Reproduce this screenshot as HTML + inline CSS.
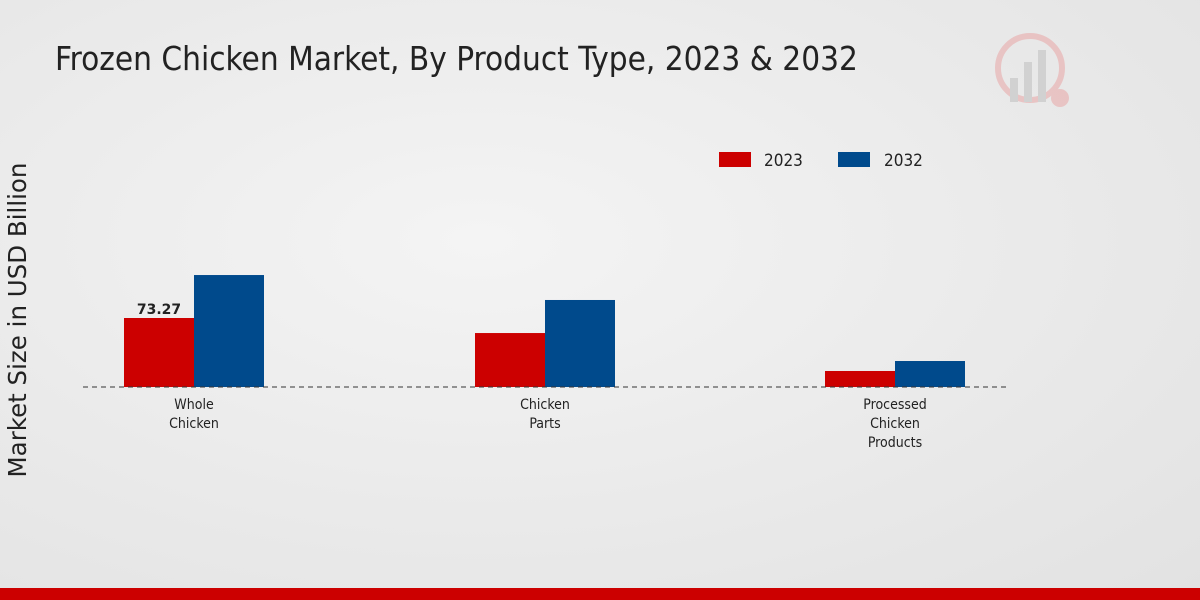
<!DOCTYPE html>
<html><head><meta charset="utf-8"><style>
html,body{margin:0;padding:0}
body{width:1200px;height:600px;overflow:hidden;background:radial-gradient(ellipse at 40% 40%,#f4f4f4 0%,#e9e9e9 60%,#e2e2e2 100%);font-family:"DejaVu Sans","Liberation Sans",sans-serif;position:relative}
</style></head><body>
<svg width="1200" height="600" style="position:absolute;left:0;top:0">
<text x="55" y="70" font-size="33" fill="#222" font-family="DejaVu Sans Condensed, DejaVu Sans, sans-serif">Frozen Chicken Market, By Product Type, 2023 &amp; 2032</text>
<text transform="translate(26,320) rotate(-90)" text-anchor="middle" font-size="24.5" fill="#222">Market Size in USD Billion</text>
<g>
<rect x="719" y="152" width="32" height="15" fill="#cc0000"/>
<text x="764" y="166" font-size="17" fill="#222" font-family="DejaVu Sans Condensed, DejaVu Sans, sans-serif">2023</text>
<rect x="838" y="152" width="32" height="15" fill="#004a8c"/>
<text x="884" y="166" font-size="17" fill="#222" font-family="DejaVu Sans Condensed, DejaVu Sans, sans-serif">2032</text>
</g>
<g id="bars"></g>
<line x1="83" y1="387" x2="1008" y2="387" stroke="#333" stroke-dasharray="5,4" stroke-width="1"/>
<g id="xlabels"></g>
<g opacity="0.5">
<circle cx="1030" cy="68" r="32" fill="none" stroke="#e8a0a0" stroke-width="6"/>
<rect x="1010" y="78" width="8" height="24" fill="#bbb"/>
<rect x="1024" y="62" width="8" height="40" fill="#bbb"/>
<rect x="1038" y="50" width="8" height="52" fill="#bbb"/>
<circle cx="1060" cy="98" r="9" fill="#e8a0a0"/>
</g>
<rect x="0" y="588" width="1200" height="12" fill="#cc0000"/>
</svg>
<script>
const categories=[["Whole","Chicken"],["Chicken","Parts"],["Processed","Chicken","Products"]];
const values2023=[73.27,57.3,17.0];
const values2032=[118.9,92.4,27.6];
const valueLabels=["73.27","",""];
const NS="http://www.w3.org/2000/svg";
const base=387,scale=69/73.27,centers=[194,545,895],bw=70;
const y=v=>base-v*scale;
const bars=document.getElementById('bars'),xl=document.getElementById('xlabels');
categories.forEach((c,i)=>{
  [[values2023,'#cc0000',-bw,'2023'],[values2032,'#004a8c',0,'2032']].forEach(([arr,col,off,s])=>{
    const r=document.createElementNS(NS,'rect');
    r.setAttribute('x',centers[i]+off);r.setAttribute('y',y(arr[i]));
    r.setAttribute('width',bw);r.setAttribute('height',base-y(arr[i]));r.setAttribute('fill',col);
    
    
    bars.appendChild(r);
  });
  if(valueLabels[i]){
    const t=document.createElementNS(NS,'text');
    t.setAttribute('x',centers[i]-bw/2);t.setAttribute('y',y(values2023[i])-4);
    t.setAttribute('text-anchor','middle');t.setAttribute('font-size','14');t.setAttribute('font-weight','bold');t.setAttribute('fill','#222');
    t.textContent=valueLabels[i];
    
    
    bars.appendChild(t);
  }
  c.forEach((line,j)=>{
    const t=document.createElementNS(NS,'text');
    t.setAttribute('x',centers[i]);t.setAttribute('y',409+j*19);
    t.setAttribute('text-anchor','middle');t.setAttribute('font-size','14');t.setAttribute('fill','#222');
    t.setAttribute('font-family','DejaVu Sans Condensed, DejaVu Sans, sans-serif');
    t.textContent=line;
    
    
    xl.appendChild(t);
  });
});
</script>
</body></html>
